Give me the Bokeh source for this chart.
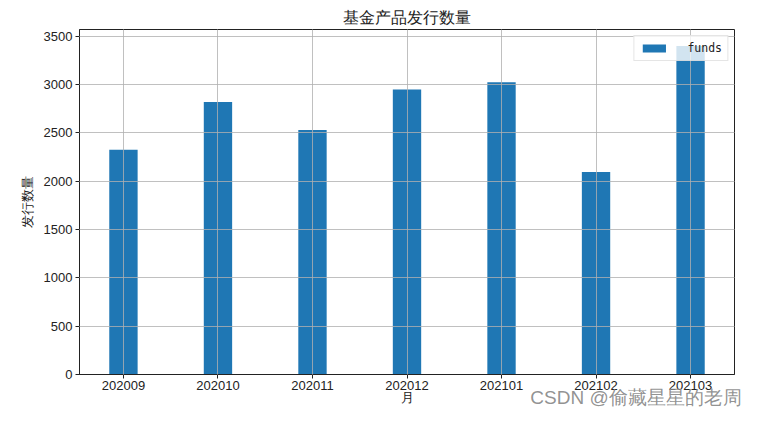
from bokeh.plotting import figure
from bokeh.models import Range1d, FixedTicker, LinearAxis
from bokeh.embed import file_html
from bokeh.resources import INLINE

months = ["202009", "202010", "202011", "202012", "202101", "202102", "202103"]
funds = [2325, 2820, 2530, 2950, 3025, 2095, 3400]
y_ticks = [0, 500, 1000, 1500, 2000, 2500, 3000, 3500]

title_text = "基金产品发行数量"
x_label = "月"
y_label = "发行数量"
series_name = "funds"
watermark = "CSDN @偷藏星星的老周"

xs = list(range(len(months)))

LAT = "Liberation Sans"
CJK = "Noto Sans CJK SC"
BAR = "#1f77b4"
GRID = "#b0b0b0"
INK = "#222222"

p = figure(
    width=742, height=410,
    x_range=Range1d(-0.465, 6.465),
    y_range=Range1d(0, 3570),
    output_backend="svg", toolbar_location=None,
    min_border_left=79, min_border_right=8, min_border_top=29, min_border_bottom=31,
    title=title_text,
)

p.vbar(x=xs, top=funds, width=0.3, fill_color=BAR, line_color=None, legend_label=series_name)

# title
p.title.text_font = LAT
p.title.text_font_size = "16px"
p.title.text_font_style = "normal"
p.title.text_color = INK
p.title.align = "center"
p.title.standoff = 7

# frame box
p.outline_line_color = INK
p.outline_line_width = 1
p.outline_line_alpha = 1

# grids above bars
for g in (p.xgrid, p.ygrid):
    g.grid_line_color = GRID
    g.grid_line_width = 0.8
    g.level = "guide"

p.xaxis.ticker = FixedTicker(ticks=xs)
p.xaxis.major_label_overrides = {i: m for i, m in zip(xs, months)}
p.yaxis.ticker = FixedTicker(ticks=y_ticks)

for ax in (p.xaxis, p.yaxis):
    ax.axis_line_color = INK
    ax.major_tick_line_color = INK
    ax.major_tick_out = 4
    ax.major_tick_in = 0
    ax.minor_tick_line_color = None
    ax.major_label_text_font = LAT
    ax.major_label_text_font_size = "13px"
    ax.major_label_text_color = INK
    ax.axis_label_text_font = LAT
    ax.axis_label_text_font_size = "13px"
    ax.axis_label_text_font_style = "normal"
    ax.axis_label_text_color = INK

p.xaxis.major_label_standoff = 2
p.xaxis.axis_label_standoff = -3
p.yaxis.major_label_standoff = 3
p.yaxis.axis_label_standoff = 6

p.xaxis.axis_label = x_label
p.yaxis.axis_label = y_label

# legend
lg = p.legend[0]
lg.location = "top_right"
lg.margin = 6
lg.padding = 5
lg.glyph_width = 29
lg.glyph_height = 10
lg.label_height = 14
lg.label_standoff = 19
lg.label_text_font = "DejaVu Sans Mono"
lg.label_text_font_size = "11.5px"
lg.label_text_color = INK
lg.border_line_color = "#cccccc"
lg.background_fill_alpha = 0.8

# watermark: drawn as a label-only axis that overlaps the tick-label row (takes ~no space)
wm_pos = 5.44
wm_axis = LinearAxis(
    ticker=FixedTicker(ticks=[wm_pos]),
    major_label_overrides={wm_pos: watermark},
    axis_line_color=None, major_tick_line_color=None, minor_tick_line_color=None,
    major_tick_out=0, major_tick_in=0,
    major_label_standoff=-21,
    major_label_text_font=LAT, major_label_text_font_size="19px",
    major_label_text_color="#8c8c8c", major_label_text_alpha=0.95,
)
p.add_layout(wm_axis, "below")

open("out.html", "w").write(file_html(p, INLINE))
